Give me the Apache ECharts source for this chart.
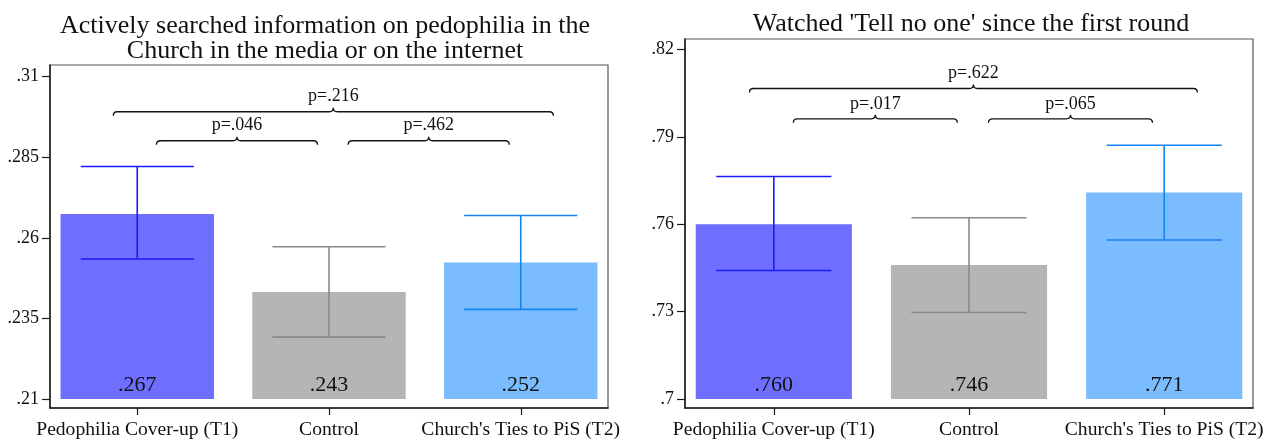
<!DOCTYPE html>
<html>
<head>
<meta charset="utf-8">
<script src="https://cdn.jsdelivr.net/npm/echarts@6/dist/echarts.min.js"></script>
<style>
  html, body { margin: 0; padding: 0; background: #fff; }
  #chart { width: 1277px; height: 441px; }
</style>
</head>
<body>
<div id="chart"></div>
<script>
  // groups on the x axis
  const categories = ['Pedophilia Cover-up (T1)', 'Control', "Church's Ties to PiS (T2)"]

  // left panel: actively searched information
  const searchedMean = [0.2674, 0.2432, 0.2523]
  const searchedLow = [0.2534, 0.2292, 0.2378]
  const searchedHigh = [0.2821, 0.2572, 0.2669]
  const searchedTicks = [0.21, 0.235, 0.26, 0.285, 0.31]
  const searchedPairs = [[0, 1], [1, 2], [0, 2]]
  const searchedP = ['.046', '.462', '.216']
  const searchedBracketY = [0.2901, 0.2901, 0.2991]

  // right panel: watched 'Tell no one'
  const watchedMean = [0.760, 0.746, 0.7709]
  const watchedLow = [0.7441, 0.7297, 0.7546]
  const watchedHigh = [0.7764, 0.7622, 0.7871]
  const watchedTicks = [0.7, 0.73, 0.76, 0.79, 0.82]
  const watchedPairs = [[0, 1], [1, 2], [0, 2]]
  const watchedP = ['.017', '.065', '.622']
  const watchedBracketY = [0.7962, 0.7962, 0.8066]

  const barColors = ['#6e6eff', '#b5b5b5', '#7bbcff']
  const ciColors = ['#1a1aff', '#8a8a8a', '#1483f3']
  const serif = '"Liberation Serif", "DejaVu Serif", serif'

  // tick labels: .21, .235 ... (no leading zero)
  const fmtTick = v => (Math.round(v * 1000) / 1000).toString().replace(/^0\./, '.')
  // bar labels always with 3 decimals: .760
  const fmtBar = v => v.toFixed(3).replace(/^0\./, '.')

  function barSeries (idx, mean, base) {
    return {
      type: 'custom',
      xAxisIndex: idx,
      yAxisIndex: idx,
      silent: true,
      data: mean.map((v, i) => [i, v]),
      renderItem: (params, api) => {
        const i = api.value(0)
        const v = api.value(1)
        const tl = api.coord([i - 0.4, v])
        const br = api.coord([i + 0.4, base])
        return {
          type: 'group',
          children: [{
            type: 'rect',
            shape: { x: tl[0], y: tl[1], width: br[0] - tl[0], height: br[1] - tl[1] },
            style: { fill: barColors[i] }
          }, {
            type: 'text',
            style: {
              text: fmtBar(v),
              x: (tl[0] + br[0]) / 2,
              y: br[1] - 14,
              align: 'center',
              verticalAlign: 'middle',
              font: '22px ' + serif,
              fill: '#111'
            }
          }]
        }
      }
    }
  }

  function ciSeries (idx, low, high) {
    return {
      type: 'custom',
      xAxisIndex: idx,
      yAxisIndex: idx,
      silent: true,
      data: low.map((v, i) => [i, v, high[i]]),
      renderItem: (params, api) => {
        const i = api.value(0)
        const lo = api.coord([i, api.value(1)])
        const hi = api.coord([i, api.value(2)])
        const half = api.size([0.295, 0])[0]
        const st = { stroke: ciColors[i], lineWidth: 1.6 }
        return {
          type: 'group',
          children: [
            { type: 'line', shape: { x1: lo[0], y1: lo[1], x2: hi[0], y2: hi[1] }, style: st },
            { type: 'line', shape: { x1: hi[0] - half, y1: hi[1], x2: hi[0] + half, y2: hi[1] }, style: st },
            { type: 'line', shape: { x1: lo[0] - half, y1: lo[1], x2: lo[0] + half, y2: lo[1] }, style: st }
          ]
        }
      }
    }
  }

  function bracketSeries (idx, pairs, pvals, levels) {
    return {
      type: 'custom',
      xAxisIndex: idx,
      yAxisIndex: idx,
      silent: true,
      clip: false,
      data: pairs.map((p, k) => [p[0], p[1], levels[k], k]),
      renderItem: (params, api) => {
        const a = api.value(0)
        const b = api.value(1)
        const k = api.value(3)
        // adjacent pairs sit inside, the wide one reaches past the bars
        const x1v = b - a === 1 ? a + 0.1 : a - 0.125
        const x2v = b - a === 1 ? b - 0.06 : b + 0.17
        const p1 = api.coord([x1v, api.value(2)])
        const p2 = api.coord([x2v, api.value(2)])
        const y = p1[1]
        const x1 = p1[0]
        const x2 = p2[0]
        const xm = (x1 + x2) / 2
        const d = 'M' + x1 + ' ' + (y + 4) + ' Q' + x1 + ' ' + y + ' ' + (x1 + 4) + ' ' + y +
          ' L' + (xm - 4) + ' ' + y + ' Q' + xm + ' ' + y + ' ' + xm + ' ' + (y - 4) +
          ' Q' + xm + ' ' + y + ' ' + (xm + 4) + ' ' + y +
          ' L' + (x2 - 4) + ' ' + y + ' Q' + x2 + ' ' + y + ' ' + x2 + ' ' + (y + 4)
        return {
          type: 'group',
          children: [{
            type: 'path',
            shape: { pathData: d },
            style: { fill: null, stroke: '#111', lineWidth: 1.3 }
          }, {
            type: 'text',
            style: {
              text: 'p=' + pvals[k],
              x: xm,
              y: y - 15,
              align: 'center',
              verticalAlign: 'middle',
              font: '18px ' + serif,
              fill: '#111'
            }
          }]
        }
      }
    }
  }

  function xAxisFor (idx) {
    return {
      type: 'value',
      gridIndex: idx,
      min: -0.455,
      max: 2.455,
      splitLine: { show: false },
      axisLine: { show: true, onZero: false, lineStyle: { color: '#1a1a1a', width: 1.5 } },
      axisTick: { show: true, length: 7, customValues: [0, 1, 2], lineStyle: { color: '#1a1a1a', width: 1.2 } },
      axisLabel: {
        customValues: [0, 1, 2],
        formatter: v => categories[Math.round(v)],
        fontFamily: serif,
        fontSize: 19.6,
        color: '#111',
        margin: 12
      }
    }
  }

  function yAxisFor (idx, ticks, min, max) {
    return {
      type: 'value',
      gridIndex: idx,
      min: min,
      max: max,
      splitLine: { show: false },
      axisLine: { show: true, onZero: false, lineStyle: { color: '#1a1a1a', width: 1.5 } },
      axisTick: { show: true, length: 8, customValues: ticks, lineStyle: { color: '#1a1a1a', width: 1.2 } },
      axisLabel: {
        customValues: ticks,
        formatter: v => fmtTick(v),
        fontFamily: serif,
        fontSize: 18,
        color: '#111',
        margin: 11
      }
    }
  }

  const myChart = echarts.init(document.getElementById('chart'), null, { renderer: 'canvas' })
  myChart.setOption({
    animation: false,
    backgroundColor: '#fff',
    title: [{
      text: 'Actively searched information on pedophilia in the\nChurch in the media or on the internet',
      left: 320,
      top: 9,
      textAlign: 'center',
      textStyle: { fontFamily: serif, fontSize: 26, fontWeight: 'normal', color: '#111', lineHeight: 25 }
    }, {
      text: "Watched 'Tell no one' since the first round",
      left: 966,
      top: 7,
      textAlign: 'center',
      textStyle: { fontFamily: serif, fontSize: 26, fontWeight: 'normal', color: '#111', lineHeight: 25 }
    }],
    grid: [
      { left: 50, right: 669, top: 65, bottom: 33, show: true, borderColor: '#555', borderWidth: 1.2 },
      { left: 685, right: 24, top: 39, bottom: 33, show: true, borderColor: '#555', borderWidth: 1.2 }
    ],
    xAxis: [xAxisFor(0), xAxisFor(1)],
    yAxis: [
      yAxisFor(0, searchedTicks, 0.2072, 0.3136),
      yAxisFor(1, watchedTicks, 0.6969, 0.8236)
    ],
    series: [
      barSeries(0, searchedMean, 0.21),
      ciSeries(0, searchedLow, searchedHigh),
      bracketSeries(0, searchedPairs, searchedP, searchedBracketY),
      barSeries(1, watchedMean, 0.7),
      ciSeries(1, watchedLow, watchedHigh),
      bracketSeries(1, watchedPairs, watchedP, watchedBracketY)
    ]
  })
</script>
</body>
</html>
